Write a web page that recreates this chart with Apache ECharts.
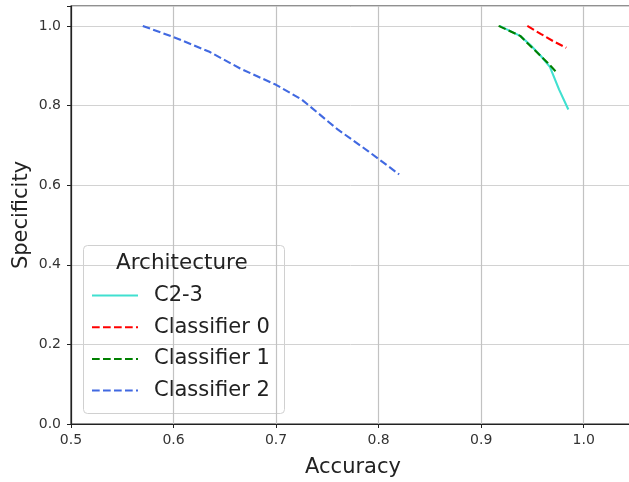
<!DOCTYPE html>
<html><head><meta charset="utf-8">
<script src="https://cdn.jsdelivr.net/npm/echarts@6/dist/echarts.min.js"></script>
<style>html,body{margin:0;padding:0;background:#fff}#c{width:629px;height:482px}</style>
</head><body><div id="c"></div>
<script>
const seriesNames = ["C2-3", "Classifier 0", "Classifier 1", "Classifier 2"];
const c23 = [[0.918,1.0],[0.938,0.975],[0.948,0.952],[0.958,0.925],[0.967,0.897],[0.976,0.84],[0.985,0.79]];
const cls0 = [[0.945,1.0],[0.958,0.98],[0.97,0.962],[0.983,0.945]];
const cls1 = [[0.917,1.0],[0.938,0.975],[0.947,0.952],[0.957,0.927],[0.965,0.907],[0.974,0.882]];
const cls2 = [[0.570,1.0],[0.60,0.972],[0.635,0.935],[0.665,0.893],[0.70,0.852],[0.725,0.815],[0.76,0.74],[0.79,0.685],[0.82,0.627]];
const colors = ["#40E0D0", "#FF0000", "#008000", "#4169E1"];
const types = ["solid", "dashed", "dashed", "dashed"];
const datas = [c23, cls0, cls1, cls2];

const chart = echarts.init(document.getElementById('c'), null, {renderer:'canvas'});
const font = 'DejaVu Sans';
const dash = [7.7, 3.3];
chart.setOption({
  animation:false,
  textStyle:{fontFamily:font},
  grid:{left:71,right:-6,top:6,bottom:58,outerBoundsMode:'none',containLabel:false,
    show:true,borderColor:'#222',borderWidth:1.2,backgroundColor:'transparent'},
  xAxis:{type:'value',min:0.5,max:1.05,interval:0.1,
    name:'Accuracy',nameLocation:'middle',nameGap:33,
    nameTextStyle:{fontSize:21,color:'#222',fontFamily:font},
    axisLine:{show:true,onZero:false,lineStyle:{color:'#222',width:1.2}},
    axisTick:{show:true,length:4,lineStyle:{color:'#222'}},
    axisLabel:{fontSize:14,color:'#333',margin:9,fontFamily:font,
      formatter:v=> v>1.01?'':v.toFixed(1)},
    splitLine:{show:true,lineStyle:{color:'#c2c2c2',width:1.2}}},
  yAxis:{type:'value',min:0,max:1.05,interval:0.2,
    name:'Specificity',nameLocation:'middle',nameGap:39,nameMoveOverlap:false,
    nameTextStyle:{fontSize:21,color:'#222',fontFamily:font},
    axisLine:{show:true,onZero:false,lineStyle:{color:'#222',width:1.2}},
    axisTick:{show:true,length:4,lineStyle:{color:'#222'}},
    axisLabel:{fontSize:14,color:'#333',margin:10,fontFamily:font,
      formatter:v=> v>1.01?'':v.toFixed(1)},
    splitLine:{show:true,lineStyle:{color:'#d2d2d2',width:1}}},
  legend:{orient:'vertical',left:91,top:285,padding:0,itemGap:10.7,itemWidth:46,itemHeight:21,
    itemStyle:{opacity:0,borderWidth:0},
    textStyle:{fontSize:21,lineHeight:21,color:'#222',fontFamily:font,padding:[0,0,0,11]},
    data:seriesNames},
  graphic:[
    {type:'rect',left:83,top:245,z:0,shape:{width:201,height:168,r:4},
     style:{fill:'rgba(255,255,255,0.8)',stroke:'#d0d0d0',lineWidth:1}},
    {type:'text',left:116,top:252,z:10,style:{text:'Architecture',fontSize:21.5,fill:'#222',fontFamily:font}}
  ],
  series: datas.map((d,i)=>({
    name:seriesNames[i],type:'line',data:d,showSymbol:false,symbol:'none',smooth:false,
    lineStyle:{color:colors[i],width:2.1,type:types[i]==='dashed'?dash:'solid'},
    itemStyle:{color:colors[i]},z:3
  }))
});
</script></body></html>
